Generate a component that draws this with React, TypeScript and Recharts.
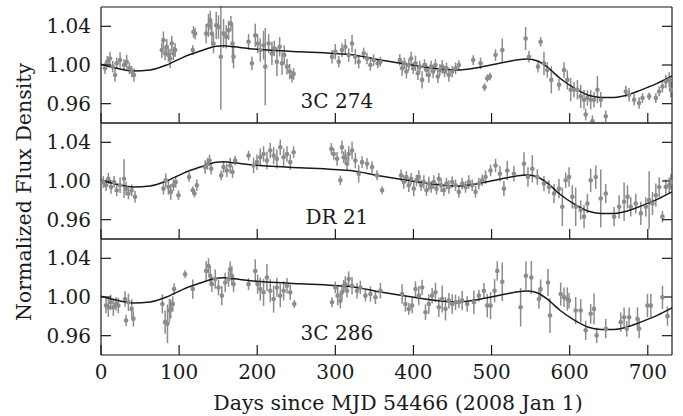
import React from "react";
import { ComposedChart, Line, Scatter, ErrorBar, XAxis, YAxis, ReferenceDot } from "recharts";

// x ticks (days) and y ticks (normalized flux)
const dayTicks = [0, 100, 200, 300, 400, 500, 600, 700];
const fluxTicks = [0.96, 1.0, 1.04];

// smooth gain model drawn in every panel: [day, flux]
const modelCurve: [number, number][] = [
  [0, 1.0007], [20, 0.9966], [41, 0.9938], [63, 0.9949], [84, 1.0], [105, 1.0079],
  [127, 1.0144], [148, 1.0195], [157, 1.0198], [170, 1.0188], [191, 1.0168], [212, 1.0154],
  [255, 1.0137], [298, 1.012], [319, 1.0109], [358, 1.0051], [392, 1.0007], [435, 0.9959],
  [460, 0.9949], [477, 0.9966], [499, 1.0], [520, 1.0034], [540, 1.006], [546, 1.0062],
  [559, 1.0041], [571, 0.998], [588, 0.986], [606, 0.976], [623, 0.969], [640, 0.9665],
  [657, 0.9665], [674, 0.969], [691, 0.974], [712, 0.981], [731, 0.9887],
];

// measurements: [day, flux, error]
const points3C274: [number, number, number][] = [
  [5.1, 0.9966, 0.006], [8.1, 1.0034, 0.006], [11.5, 1.0068, 0.007], [15.0, 0.9983, 0.006],
  [18.0, 0.9897, 0.007], [20.1, 1.0017, 0.006], [24.4, 1.0051, 0.008], [29.5, 1.0, 0.006],
  [32.9, 1.0034, 0.007], [36.3, 0.9966, 0.006], [39.3, 0.9932, 0.006], [42.3, 0.9897, 0.007],
  [77.8, 1.0154, 0.008], [79.9, 1.0257, 0.009], [82.1, 1.012, 0.007], [84.2, 1.0188, 0.008],
  [86.3, 1.0103, 0.007], [88.5, 1.0068, 0.01], [90.6, 1.0222, 0.008], [92.7, 1.012, 0.007],
  [94.9, 1.0154, 0.007], [117.5, 1.0154, 0.005], [118.4, 1.0342, 0.006], [120.5, 1.0325, 0.006],
  [134.6, 1.0325, 0.01], [137.6, 1.041, 0.012], [139.8, 1.0462, 0.01], [141.9, 1.0325, 0.012],
  [144.0, 1.0222, 0.01], [147.5, 1.041, 0.014], [150.4, 1.0393, 0.012], [153.4, 1.0086, 0.055],
  [156.9, 1.0325, 0.015], [160.3, 1.0291, 0.012], [163.3, 1.0359, 0.01], [166.3, 1.0428, 0.008],
  [168.4, 1.0222, 0.02], [169.7, 1.0086, 0.012], [188.9, 1.024, 0.008], [193.2, 1.0017, 0.007],
  [197.5, 1.0308, 0.012], [200.5, 1.0222, 0.01], [203.9, 1.0154, 0.012], [208.1, 1.0205, 0.015],
  [210.3, 0.9983, 0.04], [214.6, 1.0222, 0.01], [218.8, 1.012, 0.012], [221.8, 1.0171, 0.008],
  [225.2, 1.0034, 0.015], [228.7, 1.0188, 0.01], [231.7, 1.0017, 0.012], [234.6, 1.0103, 0.01],
  [238.1, 0.9983, 0.008], [241.5, 0.9932, 0.008], [244.5, 0.988, 0.006], [246.6, 0.9908, 0.006],
  [295.8, 1.0086, 0.007], [300.0, 1.0137, 0.008], [304.3, 1.0034, 0.006], [308.5, 1.0154, 0.007],
  [312.8, 1.0188, 0.008], [317.1, 1.0103, 0.007], [321.4, 1.0222, 0.009], [325.6, 1.0086, 0.008],
  [329.9, 1.0034, 0.007], [336.3, 1.012, 0.006], [340.6, 1.0068, 0.006], [344.9, 1.0, 0.006],
  [349.1, 1.0051, 0.006], [354.3, 1.0017, 0.005], [357.7, 1.0034, 0.005],
  [382.5, 1.0051, 0.006], [385.5, 0.9966, 0.008], [388.5, 1.0017, 0.006], [391.0, 0.9932, 0.007],
  [394.0, 1.0, 0.006], [397.0, 1.0068, 0.007], [399.6, 0.9966, 0.006], [402.6, 1.0017, 0.008],
  [405.6, 0.9914, 0.007], [408.1, 0.9983, 0.006], [411.1, 0.9846, 0.009], [414.1, 1.0, 0.006],
  [416.7, 0.9949, 0.007], [419.7, 0.9897, 0.008], [422.7, 0.9983, 0.006], [425.2, 0.9932, 0.007],
  [428.2, 1.0, 0.006], [431.2, 0.988, 0.007], [433.8, 0.9949, 0.006], [436.8, 0.9983, 0.007],
  [439.8, 0.9932, 0.006], [442.3, 0.9966, 0.006], [445.3, 0.9897, 0.007], [449.6, 0.9932, 0.006],
  [453.9, 0.9966, 0.006], [458.1, 1.0, 0.005], [476.5, 1.0051, 0.005], [485.9, 1.0017, 0.006],
  [491.0, 0.9771, 0.004], [494.5, 0.9863, 0.004], [497.9, 0.988, 0.004], [505.1, 1.0103, 0.006],
  [513.7, 1.0154, 0.012], [543.6, 1.0274, 0.012], [547.9, 1.0086, 0.006], [559.4, 0.9983, 0.006],
  [562.8, 1.024, 0.005], [567.1, 1.0017, 0.012], [571.4, 0.9949, 0.008], [576.5, 0.9846, 0.014],
  [586.3, 0.9795, 0.006], [592.8, 0.9949, 0.008], [597.0, 0.9846, 0.01], [601.3, 0.9744, 0.012],
  [605.6, 0.9744, 0.008], [609.9, 0.9744, 0.01], [614.1, 0.9675, 0.012], [618.4, 0.9641, 0.01],
  [620.5, 0.9487, 0.006], [622.7, 0.9658, 0.008], [626.9, 0.9641, 0.01], [629.1, 0.9419, 0.006],
  [631.2, 0.9641, 0.008], [635.5, 0.9744, 0.014], [639.8, 0.9641, 0.008], [646.2, 0.947, 0.006],
  [671.8, 0.9726, 0.006], [676.1, 0.9692, 0.007], [682.5, 0.9641, 0.006], [688.9, 0.9607, 0.006],
  [693.2, 0.9658, 0.005], [701.7, 0.9675, 0.004], [710.3, 0.9658, 0.005], [714.6, 0.9726, 0.005],
  [718.8, 0.9778, 0.006], [723.1, 0.9829, 0.007], [727.4, 0.9846, 0.008], [729.5, 0.9744, 0.008],
];

const pointsDR21: [number, number, number][] = [
  [3.0, 0.999, 0.006], [6.4, 0.9956, 0.006], [9.4, 1.0024, 0.006], [12.8, 0.9938, 0.007],
  [16.7, 0.999, 0.006], [20.1, 0.9904, 0.006], [24.4, 0.9956, 0.008], [29.5, 1.0024, 0.02],
  [32.1, 0.9921, 0.007], [35.1, 0.987, 0.006], [39.3, 0.9904, 0.006], [43.6, 0.9836, 0.006],
  [79.9, 0.9921, 0.006], [82.9, 1.0007, 0.007], [86.3, 0.9938, 0.008], [89.3, 0.9887, 0.008],
  [92.7, 0.9956, 0.006], [95.7, 0.999, 0.006], [99.2, 0.9853, 0.005], [112.8, 1.0041, 0.005],
  [117.5, 0.9904, 0.004], [119.7, 0.987, 0.004], [122.7, 0.9956, 0.006], [133.3, 1.0144, 0.007],
  [136.3, 1.0178, 0.006], [138.9, 1.0212, 0.006], [141.0, 1.0127, 0.006], [153.9, 1.0058, 0.005],
  [156.9, 1.0144, 0.006], [161.1, 1.0109, 0.007], [165.4, 1.0161, 0.008], [168.4, 1.0092, 0.006],
  [171.8, 1.0212, 0.005], [188.9, 1.0263, 0.005], [195.3, 1.0161, 0.008], [199.6, 1.0195, 0.008],
  [203.9, 1.0246, 0.009], [208.1, 1.028, 0.008], [212.4, 1.0212, 0.009], [216.7, 1.0315, 0.008],
  [221.0, 1.0263, 0.009], [225.2, 1.0229, 0.01], [229.5, 1.0349, 0.008], [233.8, 1.0246, 0.009],
  [238.1, 1.028, 0.008], [242.3, 1.0195, 0.008], [246.6, 1.0298, 0.006], [294.9, 1.0332, 0.006],
  [297.9, 1.028, 0.006], [302.2, 1.0229, 0.007], [306.4, 1.0007, 0.005], [308.5, 1.0349, 0.007],
  [310.7, 1.0246, 0.006], [312.8, 1.0246, 0.008], [315.0, 1.0178, 0.007], [317.1, 1.028, 0.008],
  [321.4, 1.0315, 0.009], [325.6, 1.0212, 0.008], [329.9, 1.0075, 0.009], [334.2, 1.0195, 0.006],
  [340.6, 1.0178, 0.006], [347.0, 1.0144, 0.006], [353.4, 1.0058, 0.005], [359.8, 0.9904, 0.004],
  [384.2, 1.0058, 0.006], [387.6, 0.999, 0.007], [391.0, 1.0041, 0.006], [394.0, 0.9956, 0.007],
  [397.0, 1.0024, 0.006], [400.4, 0.9921, 0.008], [403.8, 1.0007, 0.006], [406.8, 1.0041, 0.007],
  [409.8, 0.9956, 0.006], [413.3, 0.999, 0.007], [416.7, 0.9904, 0.006], [419.7, 0.9973, 0.007],
  [422.7, 0.9938, 0.006], [426.1, 0.999, 0.007], [429.5, 0.9921, 0.006], [432.5, 1.0024, 0.006],
  [435.5, 0.9956, 0.007], [438.9, 0.9904, 0.006], [442.3, 0.9973, 0.006], [445.3, 0.9938, 0.007],
  [449.6, 0.999, 0.006], [453.9, 0.9956, 0.006], [458.1, 0.9887, 0.006], [462.4, 0.9973, 0.006],
  [466.7, 0.9938, 0.006], [470.9, 0.999, 0.007], [475.2, 0.9956, 0.006], [479.5, 0.9887, 0.006],
  [483.8, 0.9973, 0.006], [488.0, 1.0007, 0.006], [492.3, 1.0041, 0.007], [498.7, 1.0109, 0.006],
  [505.1, 1.0161, 0.007], [510.7, 1.0075, 0.008], [515.8, 0.9921, 0.008], [520.1, 1.0109, 0.01],
  [528.6, 1.0075, 0.008], [541.5, 1.0178, 0.012], [546.6, 1.0041, 0.01], [552.2, 1.0127, 0.014],
  [558.6, 1.0041, 0.008], [567.1, 0.9973, 0.008], [573.5, 0.9938, 0.007], [580.0, 0.987, 0.01],
  [586.3, 0.9921, 0.01], [590.6, 0.9733, 0.02], [594.9, 1.0007, 0.008], [599.2, 1.0041, 0.01],
  [603.4, 0.9836, 0.012], [607.7, 0.9733, 0.02], [614.1, 0.9699, 0.01], [618.4, 0.9631, 0.012],
  [622.7, 0.9767, 0.01], [626.9, 1.0007, 0.012], [633.4, 1.0041, 0.012], [639.8, 0.9819, 0.03],
  [646.2, 0.987, 0.01], [656.9, 0.9631, 0.01], [663.3, 0.9733, 0.012], [669.7, 0.9785, 0.02],
  [674.0, 0.9836, 0.012], [678.2, 0.9733, 0.01], [684.6, 0.9767, 0.01], [691.1, 0.9665, 0.012],
  [697.5, 0.9733, 0.01], [701.7, 0.9802, 0.03], [706.0, 0.9767, 0.012], [710.3, 0.9853, 0.012],
  [714.6, 0.9938, 0.01], [718.8, 0.9631, 0.006], [723.1, 0.9938, 0.008], [727.4, 0.9956, 0.008],
  [729.5, 0.999, 0.008],
];

const points3C286: [number, number, number][] = [
  [6.4, 0.9911, 0.008], [9.4, 0.9894, 0.01], [12.4, 0.9945, 0.008], [15.8, 0.9894, 0.009],
  [19.2, 0.9928, 0.007], [22.2, 0.9911, 0.008], [30.8, 0.9979, 0.008], [32.1, 0.9757, 0.006],
  [35.1, 0.9945, 0.009], [39.3, 0.9877, 0.01], [41.5, 0.9774, 0.008], [78.6, 0.9928, 0.01],
  [82.1, 0.974, 0.012], [85.1, 0.9723, 0.02], [87.6, 0.986, 0.012], [89.3, 0.9877, 0.01],
  [91.9, 0.9928, 0.008], [93.6, 1.0082, 0.006], [107.7, 1.0236, 0.004], [117.5, 1.0082, 0.01],
  [134.6, 1.027, 0.01], [137.6, 1.0321, 0.008], [139.8, 1.0219, 0.01], [141.9, 1.0133, 0.008],
  [146.2, 1.0185, 0.01], [150.4, 1.0099, 0.008], [154.7, 1.0014, 0.01], [159.0, 1.015, 0.01],
  [163.3, 1.0185, 0.008], [165.4, 1.0287, 0.008], [167.5, 1.0219, 0.01], [169.7, 1.0133, 0.008],
  [188.9, 1.0133, 0.006], [197.5, 1.027, 0.012], [200.5, 1.0133, 0.01], [203.9, 1.0082, 0.012],
  [208.1, 1.0048, 0.014], [212.4, 1.0202, 0.014], [216.7, 1.0065, 0.012], [221.0, 0.9979, 0.014],
  [225.2, 1.0099, 0.01], [229.5, 1.0014, 0.012], [233.8, 1.0065, 0.01], [238.1, 1.0116, 0.008],
  [242.3, 1.0048, 0.008], [247.5, 0.9928, 0.004], [295.8, 0.9945, 0.005], [300.0, 1.0099, 0.006],
  [303.0, 1.0014, 0.01], [306.4, 0.9962, 0.008], [308.5, 1.0048, 0.008], [310.7, 1.0116, 0.006],
  [312.8, 1.0133, 0.008], [315.0, 1.0065, 0.007], [317.1, 1.0185, 0.008], [321.4, 1.0116, 0.009],
  [327.8, 1.0065, 0.008], [332.0, 1.0099, 0.007], [338.5, 1.0014, 0.006], [344.9, 1.0031, 0.008],
  [351.3, 0.9997, 0.007], [357.7, 1.0065, 0.008], [385.5, 1.0031, 0.01], [389.7, 0.9928, 0.008],
  [394.0, 0.9877, 0.006], [398.3, 0.9911, 0.008], [402.6, 1.0082, 0.008], [406.8, 1.0014, 0.01],
  [411.1, 1.0099, 0.008], [415.4, 0.9843, 0.008], [419.7, 0.9928, 0.01], [423.9, 1.0014, 0.008],
  [428.2, 1.0048, 0.01], [432.5, 0.9894, 0.01], [436.8, 0.9979, 0.014], [441.0, 0.9877, 0.012],
  [445.3, 0.9962, 0.008], [449.6, 0.9928, 0.01], [453.9, 0.9945, 0.008], [458.1, 0.9945, 0.006],
  [462.4, 0.9962, 0.01], [468.8, 0.9928, 0.008], [477.4, 0.9945, 0.012], [483.8, 1.0014, 0.006],
  [490.2, 1.0065, 0.008], [494.5, 0.9911, 0.012], [498.7, 0.9911, 0.014], [503.9, 1.0065, 0.012],
  [507.3, 1.027, 0.01], [513.7, 1.0157, 0.02], [537.2, 0.9894, 0.02], [544.0, 1.0219, 0.015],
  [550.9, 1.0202, 0.017], [560.7, 0.9979, 0.01], [562.8, 1.0082, 0.01], [572.2, 1.015, 0.014],
  [574.8, 0.9808, 0.018], [588.5, 1.0031, 0.012], [592.8, 0.9997, 0.01], [597.0, 0.9979, 0.012],
  [599.2, 0.9962, 0.008], [607.7, 0.986, 0.014], [614.1, 0.986, 0.012], [620.5, 0.9655, 0.01],
  [626.9, 0.9826, 0.01], [631.2, 0.9877, 0.016], [634.6, 0.9603, 0.008], [646.2, 0.9672, 0.01],
  [665.4, 0.974, 0.01], [669.7, 0.9791, 0.01], [673.1, 0.9672, 0.008], [676.1, 0.9791, 0.01],
  [686.8, 0.9774, 0.012], [688.9, 0.9672, 0.01], [699.6, 0.9911, 0.012], [703.9, 0.9911, 0.012],
  [718.8, 0.9997, 0.012], [725.2, 0.9802, 0.01],
];

const GRAY = "#8c8c8c";
const INK = "#1a1a1a";
const FONT = "'DejaVu Serif', serif";
const FS = 20;

const toRows = (pts: [number, number, number][]) => pts.map(([day, flux, err]) => ({ day, flux, err }));
const curveRows = modelCurve.map(([day, flux]) => ({ day, flux }));

const Marker = (p: any) => <circle cx={p.cx} cy={p.cy} r={2.3} fill={GRAY} />;
const NoTick = () => <g />;

interface PanelProps {
  points: [number, number, number][];
  name: string;
  top: number;
  showX?: boolean;
}

function Panel({ points, name, top, showX = false }: PanelProps) {
  const bottomH = showX ? 40 : 1;
  return (
    <div style={{ position: "absolute", left: 0, top }}>
      <ComposedChart width={683} height={117 + bottomH} margin={{ top: 0, right: 10, bottom: 0, left: 0 }}>
        <XAxis
          dataKey="day"
          type="number"
          domain={[0, 731]}
          ticks={dayTicks}
          interval={0}
          height={bottomH}
          tickSize={-10}
          tickMargin={20}
          stroke={INK}
          strokeWidth={1.2}
          tick={showX ? { fill: INK, fontSize: FS, fontFamily: FONT } : NoTick}
        />
        <XAxis
          xAxisId="top"
          orientation="top"
          dataKey="day"
          type="number"
          domain={[0, 731]}
          ticks={dayTicks}
          interval={0}
          height={1}
          tickSize={-10}
          stroke={INK}
          strokeWidth={1.2}
          tick={NoTick}
        />
        <YAxis
          dataKey="flux"
          type="number"
          domain={[0.94, 1.06]}
          allowDataOverflow
          ticks={fluxTicks}
          interval={0}
          width={101}
          tickSize={-10}
          tickMargin={20}
          stroke={INK}
          strokeWidth={1.2}
          tickFormatter={(v: number) => v.toFixed(2)}
          tick={{ fill: INK, fontSize: FS, fontFamily: FONT }}
        />
        <YAxis
          yAxisId="right"
          orientation="right"
          dataKey="flux"
          type="number"
          domain={[0.94, 1.06]}
          allowDataOverflow
          ticks={fluxTicks}
          interval={0}
          width={1}
          tickSize={-10}
          stroke={INK}
          strokeWidth={1.2}
          tick={NoTick}
        />
        <Scatter data={toRows(points)} dataKey="flux" shape={Marker} isAnimationActive={false}>
          <ErrorBar dataKey="err" direction="y" width={0} stroke={GRAY} strokeWidth={1.5} />
        </Scatter>
        <Line
          data={curveRows}
          dataKey="flux"
          type="monotone"
          stroke={INK}
          strokeWidth={1.5}
          dot={false}
          activeDot={false}
          isAnimationActive={false}
        />
        <ReferenceDot
          x={302}
          y={0.9625}
          r={0}
          fill="none"
          stroke="none"
          label={{ value: name, position: "center", fill: INK, fontSize: FS, fontFamily: FONT }}
        />
      </ComposedChart>
    </div>
  );
}

export default function App() {
  return (
    <div style={{ position: "absolute", left: 0, top: 0, width: 683, height: 416, background: "#fff", fontFamily: FONT, color: INK }}>
      <Panel points={points3C274} name="3C 274" top={6} />
      <Panel points={pointsDR21} name="DR 21" top={122} />
      <Panel points={points3C286} name="3C 286" top={238} showX />
      <div
        style={{
          position: "absolute",
          left: 24,
          top: 192,
          transform: "translate(-50%, -50%) rotate(-90deg)",
          whiteSpace: "nowrap",
          fontSize: 20.5,
        }}
      >
        Normalized Flux Density
      </div>
      <div
        style={{
          position: "absolute",
          left: 398,
          top: 403,
          transform: "translate(-50%, -50%)",
          whiteSpace: "nowrap",
          fontSize: 20.5,
        }}
      >
        Days since MJD 54466 (2008 Jan 1)
      </div>
    </div>
  );
}
